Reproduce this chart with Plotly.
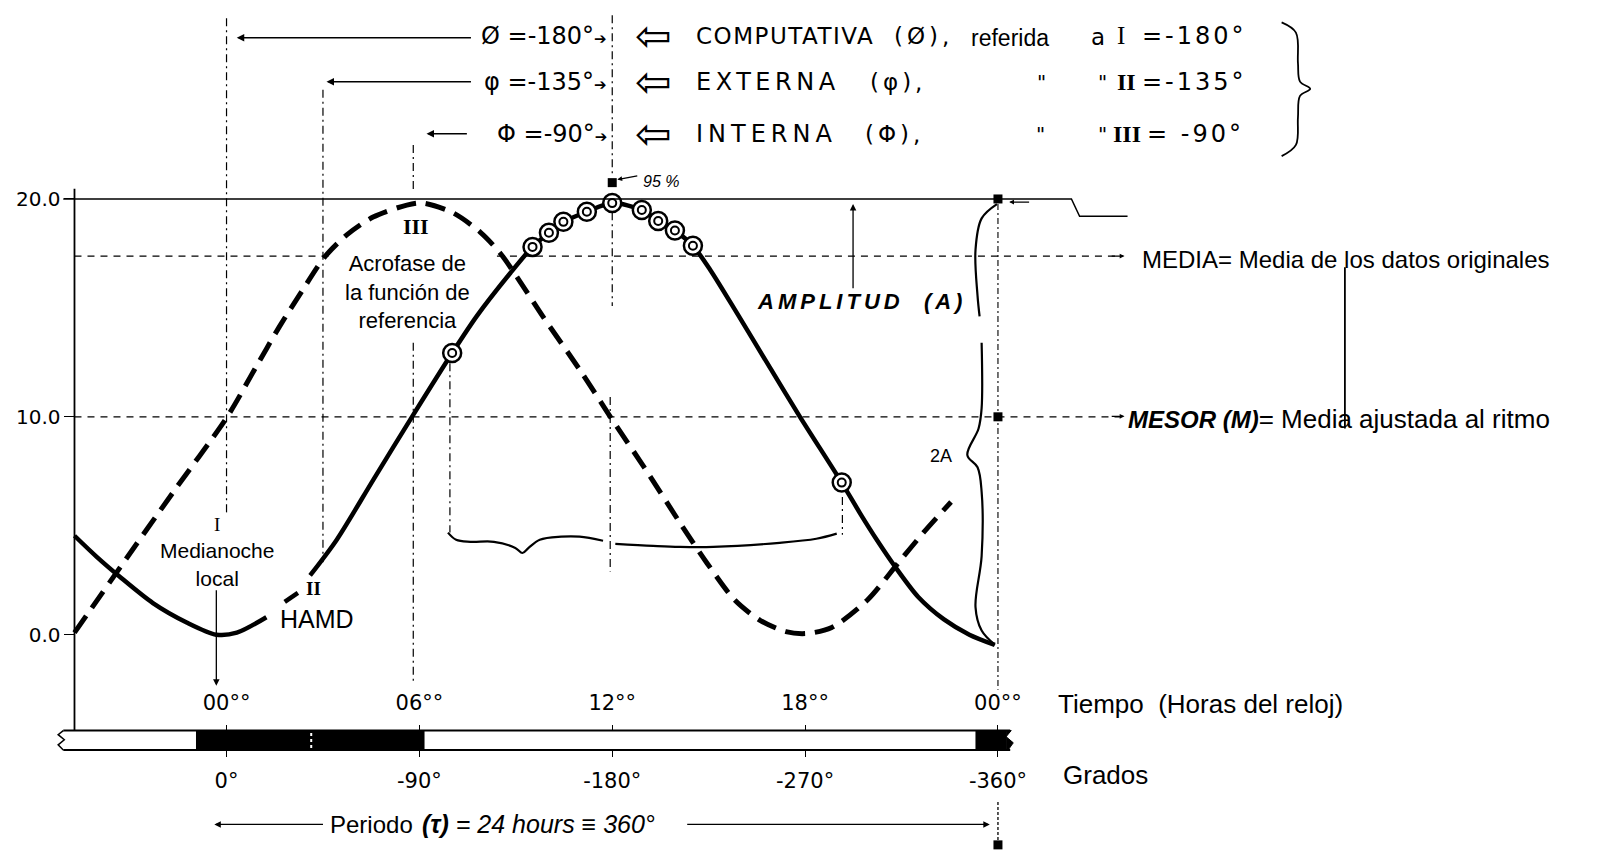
import plotly.graph_objects as go

# ---------------- data (hours of the clock, value) ----------------
solid_hours = [-4.73, -4.03, -3.33, -2.29, -1.24, -0.32, 0.32, 1.24, None, 1.81, 2.22, None,
               2.60, 3.43, 4.57, 5.77, 7.02, 7.78, 8.83, 9.52, 10.03, 10.48, 11.21, 12.00,
               12.92, 13.43, 13.95, 14.51, 15.05, 15.90, 16.86, 17.84, 19.14, 19.71, 20.25,
               20.79, 21.52, 22.32, 23.11, 23.90]
solid_values = [4.54, 3.56, 2.67, 1.45, 0.56, 0.00, 0.09, 0.80, None, 1.50, 1.92, None,
                2.72, 4.36, 7.12, 10.0, 12.93, 14.61, 16.60, 17.80, 18.45, 18.95, 19.41, 19.81,
                19.49, 18.99, 18.55, 17.85, 16.74, 14.71, 12.37, 10.0, 6.98, 5.57, 4.31,
                3.14, 1.73, 0.70, 0.0, -0.47]

dashed_hours = [-4.73, -3.31, -1.65, 0.03, 0.89, 1.65, 2.35, 3.05, 3.75, 4.56, 5.61, 6.11,
                7.05, 7.89, 8.51, 9.13, 9.84, 10.98, 11.94, 13.08, 14.10, 14.95, 15.81,
                16.60, 17.40, 18.03, 18.83, 19.94, 20.89, 21.68, 22.54]
dashed_values = [0.09, 3.09, 6.56, 10.02, 12.22, 14.15, 15.78, 17.33, 18.36, 19.17, 19.72, 19.81,
                 19.36, 18.48, 17.52, 16.21, 14.61, 12.18, 10.0, 7.49, 5.15, 3.28, 1.59,
                 0.66, 0.14, 0.05, 0.33, 1.59, 3.28, 4.68, 6.09]

circle_hours = [7.02, 9.52, 10.03, 10.48, 11.21, 12.00, 12.92, 13.43, 13.95, 14.51, 19.14]
circle_values = [12.93, 17.80, 18.45, 18.95, 19.41, 19.81, 19.49, 18.99, 18.55, 17.85, 6.98]

hour_ticks = [0, 6, 12, 18, 24]
hour_labels = ["00°°", "06°°", "12°°", "18°°", "00°°"]
degree_labels = ["0°", "-90°", "-180°", "-270°", "-360°"]
value_ticks = [0, 10, 20]
value_labels = ["0.0", "10.0", "20.0"]

mesor_level = 10.0
media_level = 17.38
top_level = 20.0
square_hours = [12, 24, 24, 24]
square_values = [20.75, 20.0, 10.0, -9.65]
dark_periods = [(-0.95, 6.16), (23.3, 24.4)]

# ---------------- frame of the reference picture ----------------
SW, SH = 1568, 836          # reference picture size used for reading positions


def X(sx):                   # reference pixel -> hours
    return (sx - 222) / 31.5


def Y(sy):                   # reference pixel -> value
    return (622 - sy) / 21.35


FONT = "Liberation Sans"
HFONT = "DejaVu Sans"
SERIF = "Liberation Serif"

fig = go.Figure()

# curves
fig.add_trace(go.Scatter(x=dashed_hours, y=dashed_values, mode="lines",
                         line=dict(color="black", width=5, dash="20px,10px",
                                   shape="spline", smoothing=0.8),
                         hoverinfo="skip"))
fig.add_trace(go.Scatter(x=solid_hours, y=solid_values, mode="lines", connectgaps=False,
                         line=dict(color="black", width=4.5, shape="spline", smoothing=0.8),
                         hoverinfo="skip"))
fig.add_trace(go.Scatter(x=circle_hours, y=circle_values, mode="markers",
                         marker=dict(symbol="circle", size=18, color="white",
                                     line=dict(color="black", width=2.5)),
                         hoverinfo="skip"))
fig.add_trace(go.Scatter(x=circle_hours, y=circle_values, mode="markers",
                         marker=dict(symbol="circle-open", size=8, color="black",
                                     line=dict(color="black", width=2)),
                         hoverinfo="skip"))

# horizontal reference levels (the MEDIA line is interrupted by the label)
level_dash = dict(color="black", width=1.3, dash="7px,6px")
fig.add_trace(go.Scatter(x=[X(73), X(322), None, X(487), X(1098)],
                         y=[media_level, media_level, None, media_level, media_level],
                         mode="lines", line=level_dash, connectgaps=False, hoverinfo="skip"))
fig.add_trace(go.Scatter(x=[X(73), X(1098)], y=[mesor_level, mesor_level],
                         mode="lines", line=level_dash, hoverinfo="skip"))
# top (20.0) line with its step on the right
fig.add_trace(go.Scatter(x=[X(62), X(1050), X(1058), X(1105)],
                         y=[top_level, top_level, Y(212), Y(212)], mode="lines",
                         line=dict(color="black", width=1.5), hoverinfo="skip"))

# black square marks
fig.add_trace(go.Scatter(x=square_hours, y=square_values, mode="markers",
                         marker=dict(symbol="square", size=9, color="black"),
                         hoverinfo="skip"))

# dummy traces so the extra tick axes are drawn
fig.add_trace(go.Scatter(x=[12], y=[-50], xaxis="x2", mode="markers",
                         marker=dict(opacity=0), hoverinfo="skip"))
fig.add_trace(go.Scatter(x=[12], y=[-50], xaxis="x3", mode="markers",
                         marker=dict(opacity=0), hoverinfo="skip"))

shapes = []


def vline(h, y0, y1, dash="8px,4px,2px,4px", width=1.2):
    shapes.append(dict(type="line", xref="x", yref="y", x0=h, x1=h, y0=y0, y1=y1,
                       line=dict(color="black", width=width, dash=dash)))


def hline(x0, x1, y, dash="solid", width=1.5, color="black"):
    shapes.append(dict(type="line", xref="x", yref="y", x0=x0, x1=x1, y0=y, y1=y,
                       line=dict(color=color, width=width, dash=dash)))


def path(points, width=1.8, fill=None, close=False):
    d = "M " + " L ".join(f"{X(a):.4f},{Y(b):.4f}" for a, b in points)
    if close:
        d += " Z"
    s = dict(type="path", xref="x", yref="y", path=d,
             line=dict(color="black", width=width))
    if fill:
        s["fillcolor"] = fill
    shapes.append(s)


# left spine
vline(X(73), Y(185), Y(716), dash="solid", width=1.8)

# phase reference verticals (I = 0 h, II = 3 h, III = 6 h, acrophase 12 h, end 24 h)
vline(0, Y(18), Y(503))
vline(3, Y(88), Y(551))
vline(X(405), Y(142), Y(186))
vline(X(405), Y(336), Y(668))
vline(12, Y(15), Y(172))
vline(12, Y(208), Y(300))
vline(X(598), Y(389), Y(560))
vline(circle_hours[0] - 0.07, Y(356), Y(522))
vline(circle_hours[-1] + 0.02, Y(487), Y(524))
vline(24, Y(200), Y(676), dash="6px,3px,2px,3px", width=1.1)
vline(24, Y(786), Y(826), dash="3px,2px", width=1.3)

# thin vertical line through the right-hand labels
vline(X(1318), Y(262), Y(420), dash="solid", width=1.8)

# light / dark strip
hline(X(62), X(990), Y(716), width=2)
hline(X(62), X(990), Y(735), width=2)
for a, b in dark_periods:
    shapes.append(dict(type="rect", xref="x", yref="y", x0=a, x1=min(b, X(986)),
                       y0=Y(735), y1=Y(716), fillcolor="black", line=dict(width=0)))
path([(986, 716), (991, 716), (986, 722), (993, 728), (988, 735), (986, 735)],
     width=1, fill="black", close=True)
shapes.append(dict(type="line", xref="x", yref="y", x0=X(305), x1=X(305), y0=Y(733),
                   y1=Y(718), line=dict(color="white", width=2, dash="3px,3px")))
path([(62, 716), (57, 720), (63, 725), (57, 730), (62, 735)], width=1.5)

fig.update_layout(shapes=shapes)


# braces drawn as smooth lines
def brace(points, width=2.2):
    fig.add_trace(go.Scatter(x=[X(a) for a, b in points], y=[Y(b) for a, b in points],
                             mode="lines", line=dict(color="black", width=width,
                                                     shape="spline", smoothing=1.0),
                             hoverinfo="skip"))


brace([(439, 522), (447, 529), (461, 531), (484, 531), (505, 537), (512, 542), (518, 537),
       (529, 529), (550, 526), (568, 526), (591, 530)])
brace([(603, 533), (640, 535), (666, 536), (699, 536), (764, 532), (800, 528), (820, 523)])
brace([(977, 200), (962, 214), (956, 245), (958, 290), (960, 310)])
brace([(962, 336), (962, 400), (959, 420), (948, 446), (958, 458), (962, 482), (962, 545),
       (956, 595), (962, 618), (975, 632)])
brace([(1256, 22), (1270, 32), (1272, 62), (1274, 80), (1284, 87), (1274, 94), (1272, 115),
       (1270, 142), (1256, 153)], width=1.8)

# ---------------- annotations ----------------
ann = []


def sp(text, ls):
    return f"<span style='letter-spacing:{ls}px'>{text}</span>"


def txt(sx, sy, text, size=22, xanchor="center", family=FONT, bg=None):
    a = dict(x=X(sx), y=Y(sy), xref="x", yref="y", text=text, showarrow=False,
             xanchor=xanchor, yanchor="middle",
             font=dict(family=family, size=size, color="black"))
    if bg:
        a.update(bgcolor=bg, borderpad=0)
    ann.append(a)


def arrow(hx, hy, tx, ty, width=1.5, head=2, size=1.0):
    ann.append(dict(x=X(hx), y=Y(hy), ax=X(tx), ay=Y(ty), xref="x", yref="y",
                    axref="x", ayref="y", text="", showarrow=True, arrowhead=head,
                    arrowwidth=width, arrowsize=size, arrowcolor="black"))


r1, r2, r3 = 35, 80, 131
# header rows
arrow(232, r1 + 2, 463, r1 + 2)
arrow(320, r2, 463, r2)
arrow(418, r3, 459, r3)
txt(597, r1, "Ø =-180°<span style='font-size:15px'>➔</span>", 24, "right", HFONT)
txt(597, r2, "φ =-135°<span style='font-size:15px'>➔</span>", 24, "right", HFONT)
txt(597, r3, "Φ =-90°<span style='font-size:15px'>➔</span>", 24, "right", HFONT)
for r in (r1, r2, r3):
    txt(640, r, "⇦", 44, "center", HFONT)
txt(680, r1, sp("COMPUTATIVA", 1.5), 23, "left", HFONT)
txt(874, r1, sp("(Ø),", 4), 23, "left", HFONT)
txt(950, r1 + 2, "referida", 23, "left", FONT)
txt(1067, r1 + 1, "a", 23, "left", HFONT)
txt(1093, r1, "I", 25, "left", SERIF)
txt(1117, r1, sp("=-180°", 3), 24, "left", HFONT)
txt(680, r2, sp("EXTERNA", 4.5), 24, "left", HFONT)
txt(851, r2, sp("(φ),", 4), 23, "left", HFONT)
txt(1021, r2, "\"", 20, "center", HFONT)
txt(1080, r2, "\"", 20, "center", HFONT)
txt(1093, r2, "<b>II</b>", 24, "left", SERIF)
txt(1117, r2, sp("=-135°", 3), 24, "left", HFONT)
txt(680, r3, sp("INTERNA", 5), 24, "left", HFONT)
txt(846, r3, sp("(Φ),", 4), 23, "left", HFONT)
txt(1020, r3, "\"", 20, "center", HFONT)
txt(1080, r3, "\"", 20, "center", HFONT)
txt(1089, r3, "<b>III</b>", 24, "left", SERIF)
txt(1122, r3, sp("= -90°", 3), 24, "left", HFONT)

# inner labels
txt(408, 222, "<b>III</b>", 22, "center", SERIF)
txt(399, 286, "Acrofase de<br>la función de<br>referencia", 22, "center", FONT)
txt(213, 541, "<span style='font-family:Liberation Serif;font-size:19px'>I</span>"
    "<br>Medianoche<br>local", 21, "center", FONT)
arrow(212, 672, 212, 577, width=1.3)
txt(307, 577, "<b>II</b>", 19, "center", SERIF)
txt(272, 607, "HAMD", 25, "left", FONT)
txt(740, 295, "<b><i>" + sp("AMPLITUD  (A)", 4) + "</i></b>", 22, "left", FONT)
arrow(836, 200, 836, 284, width=1.3)
txt(922, 447, "2A", 18, "center", FONT)
txt(628, 178, "<i>95 %</i>", 16, "left", FONT)
arrow(605, 176, 626, 172, width=1.2, size=0.8)

# right-hand labels
arrow(1102, 251, 1088, 251, width=1.2, size=0.8)
arrow(1102, 408, 1088, 408, width=1.2, size=0.8)
arrow(989, 198, 1010, 198, width=1.2, size=0.8)
txt(1117, 254, "MEDIA= Media de los datos originales", 24, "left", FONT)
txt(1103, 411, "<b><i><span style='font-size:24px'>MESOR (M)</span></i></b>"
    "= Media ajustada al ritmo", 26, "left", FONT)
txt(1035, 690, "Tiempo  (Horas del reloj)", 26, "left", FONT)
txt(1040, 760, "Grados", 26, "left", FONT)

# period line
arrow(210, 808, 318, 808, width=1.3)
arrow(970, 808, 672, 808, width=1.3)
txt(321, 808, "Periodo", 24, "left", FONT)
txt(412, 808, "<i><b>(τ)</b> = 24 hours ≡ 360°</i>", 25, "left", FONT)

fig.update_layout(annotations=ann)

# ---------------- axes ----------------
x_range = [X(0), X(SW)]
fig.update_layout(
    width=1600, height=853, margin=dict(l=0, r=0, t=0, b=0),
    paper_bgcolor="white", plot_bgcolor="white", showlegend=False,
    xaxis=dict(range=x_range, domain=[0, 1], visible=False, fixedrange=True),
    xaxis2=dict(range=x_range, overlaying="x", anchor="free", position=1 - 716 / SH,
                side="top", ticks="outside", ticklen=6, tickwidth=1.2, tickcolor="black",
                tickvals=hour_ticks, ticktext=hour_labels, showgrid=False, zeroline=False,
                showline=False, ticklabelstandoff=6,
                tickfont=dict(family=HFONT, size=21, color="black")),
    xaxis3=dict(range=x_range, overlaying="x", anchor="free", position=1 - 735 / SH,
                side="bottom", ticks="outside", ticklen=6, tickwidth=1.2, tickcolor="black",
                tickvals=hour_ticks, ticktext=degree_labels, showgrid=False, zeroline=False,
                showline=False, ticklabelstandoff=6,
                tickfont=dict(family=HFONT, size=21, color="black")),
    yaxis=dict(range=[Y(SH), Y(0)], domain=[0, 1], anchor="free", position=73 / SW,
               ticks="outside", ticklen=10, tickwidth=1.3, tickcolor="black",
               tickvals=value_ticks, ticktext=value_labels, showgrid=False,
               zeroline=False, showline=False, fixedrange=True,
               tickfont=dict(family=HFONT, size=20, color="black")),
)

fig.write_html("out.html")
